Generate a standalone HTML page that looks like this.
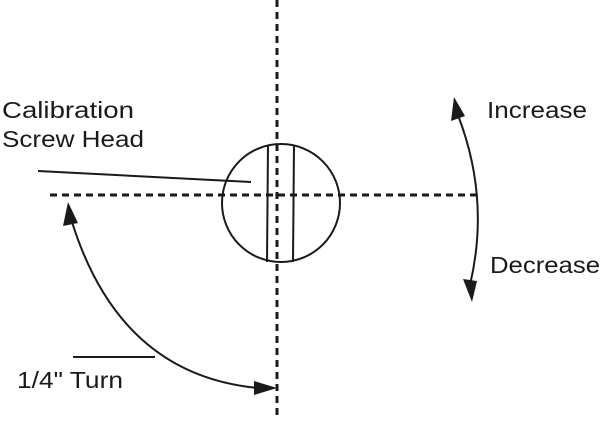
<!DOCTYPE html>
<html><head><style>html,body{margin:0;padding:0;background:#fff}</style></head>
<body>
<svg width="606" height="417" viewBox="0 0 606 417" xmlns="http://www.w3.org/2000/svg">
<g stroke="#1a1a1a" fill="none">
<line x1="277" y1="0" x2="277" y2="417" stroke-width="3" stroke-dasharray="7,5"/>
<line x1="50" y1="195" x2="482" y2="195" stroke-width="3" stroke-dasharray="7,5"/>
<circle cx="281" cy="203" r="59" stroke-width="2"/>
<line x1="268" y1="145" x2="267" y2="262" stroke-width="2"/>
<line x1="294" y1="145" x2="293" y2="262" stroke-width="2"/>
<line x1="38" y1="171" x2="251" y2="182" stroke-width="2"/>
<line x1="73" y1="357" x2="155" y2="357" stroke-width="2"/>
<path d="M72 222 Q120 375 258 388" stroke-width="2"/>
<path d="M459 118 Q490 200 470 285" stroke-width="2"/>
</g>
<g fill="#1a1a1a">
<polygon points="68,202 63,226 78,223"/>
<polygon points="277,388 254,381 254,395"/>
<polygon points="454,97 451,121 465,116"/>
<polygon points="472,302 463,279 477,281"/>
</g>
<g font-family="Liberation Sans, sans-serif" font-size="23" fill="#1a1a1a">
<text x="2" y="118" textLength="132" lengthAdjust="spacingAndGlyphs">Calibration</text>
<text x="2" y="147" textLength="142" lengthAdjust="spacingAndGlyphs">Screw Head</text>
<text x="487" y="118" textLength="100" lengthAdjust="spacingAndGlyphs">Increase</text>
<text x="490" y="273" textLength="110" lengthAdjust="spacingAndGlyphs">Decrease</text>
<text x="17" y="388" textLength="106" lengthAdjust="spacingAndGlyphs">1/4" Turn</text>
</g>
</svg>
</body></html>
